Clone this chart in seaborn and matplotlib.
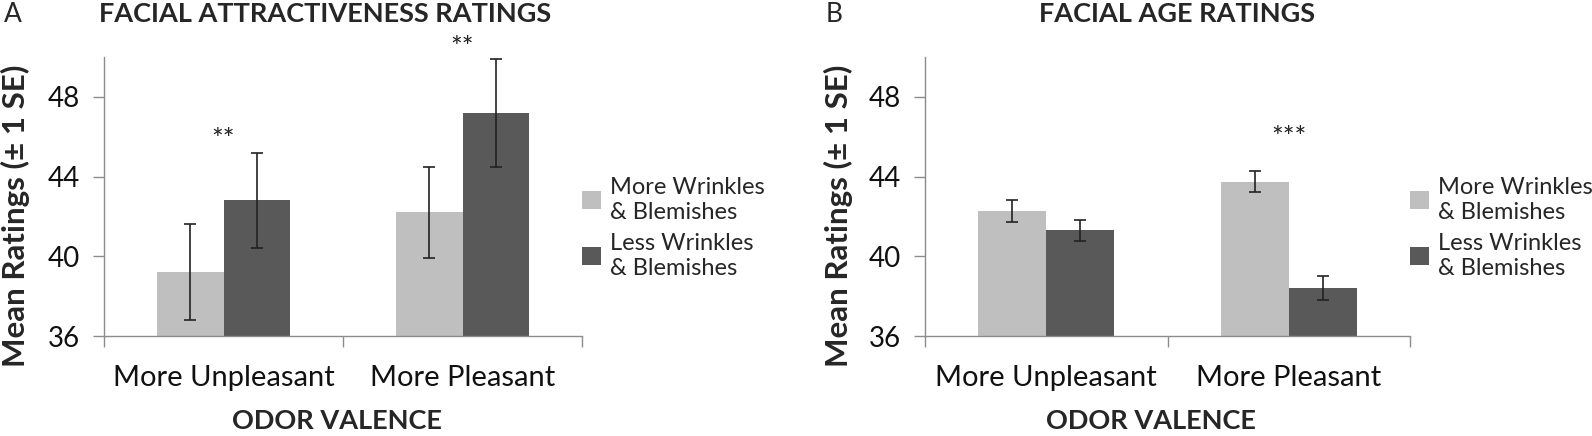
import numpy as np
import pandas as pd
import matplotlib
matplotlib.use("Agg")
import matplotlib.pyplot as plt
from matplotlib.ticker import FixedLocator
import seaborn as sns

# data
valence = ["More Unpleasant", "More Pleasant"]
conditions = ["More Wrinkles\n& Blemishes", "Less Wrinkles\n& Blemishes"]

attr_more = [39.2, 42.2]
attr_less = [42.8, 47.2]
attr_se_more = [2.4, 2.3]
attr_se_less = [2.4, 2.7]
attr_stars = ["**", "**"]
attr_star_y = [45.8, 50.4]

age_more = [42.25, 43.75]
age_less = [41.3, 38.4]
age_se_more = [0.55, 0.52]
age_se_less = [0.52, 0.6]
age_stars = ["", "***"]
age_star_y = [45.9, 45.9]

yticks = [36, 40, 44, 48]
colors = ["#bfbfbf", "#595959"]

sns.set_theme(style="white")
plt.rcParams["font.family"] = ["Lato", "DejaVu Sans"]

W, H = 1592, 436
fig = plt.figure(figsize=(W / 100, H / 100), dpi=100)


def px_axes(x0, x1, y0, y1):
    # axes rectangle given in pixel coordinates (top-left origin)
    return fig.add_axes([x0 / W, 1 - y1 / H, (x1 - x0) / W, (y1 - y0) / H])


def draw_panel(ax, more, less, se_more, se_less, stars, star_y, ylab_x):
    df = pd.DataFrame({
        "valence": valence * 2,
        "condition": [conditions[0]] * 2 + [conditions[1]] * 2,
        "rating": more + less,
    })
    sns.barplot(data=df, x="valence", y="rating", hue="condition",
                order=valence, hue_order=conditions, palette=colors,
                width=0.56, errorbar=None, saturation=1, linewidth=0, ax=ax)
    for cont, errs in zip(ax.containers, [se_more, se_less]):
        xs = [p.get_x() + p.get_width() / 2 for p in cont.patches]
        ys = [p.get_height() for p in cont.patches]
        ax.errorbar(xs, ys, yerr=errs, fmt="none", ecolor="#222222",
                    elinewidth=1.2, capsize=4, capthick=1.2, zorder=5)
    for i, (s, y) in enumerate(zip(stars, star_y)):
        if s:
            ax.text(i, y, s, ha="center", va="center", fontsize=20,
                    color="#222222", clip_on=False)

    ax.set_ylim(36, 50)
    ax.set_xlim(-0.5, 1.5)
    ax.set_yticks(yticks)
    ax.set_yticklabels([str(t) for t in yticks], fontsize=20)
    ax.set_xticks([0, 1])
    ax.set_xticklabels(valence, fontsize=21)
    ax.xaxis.set_minor_locator(FixedLocator([-0.5, 0.5, 1.5]))
    ax.tick_params(axis="x", which="major", length=0, pad=21, colors="#111111")
    ax.tick_params(axis="x", which="minor", length=8, width=1,
                   color="#8c8c8c", direction="out", bottom=True)
    ax.tick_params(axis="y", length=8, width=1, color="#8c8c8c",
                   direction="out", left=True, pad=9, labelcolor="#111111")
    for side in ["top", "right"]:
        ax.spines[side].set_visible(False)
    for side in ["left", "bottom"]:
        ax.spines[side].set_color("#8c8c8c")
        ax.spines[side].set_linewidth(1)
    ax.set_xlabel("")
    ax.set_ylabel("Mean Ratings (\u00b1 1 SE)", fontsize=22.5, fontweight="bold",
                  va="center")
    ax.yaxis.set_label_coords(ylab_x, 0.43)
    handles = ax.containers
    ax.legend(handles, conditions, loc="center left",
              bbox_to_anchor=(1.0, 0.387), frameon=False, fontsize=17,
              handlelength=0.8, handleheight=0.8, handletextpad=0.4,
              labelspacing=0.45, borderpad=0, borderaxespad=0)


axA = px_axes(104, 582, 57, 336)
draw_panel(axA, attr_more, attr_less, attr_se_more, attr_se_less,
           attr_stars, attr_star_y, -0.186)
axB = px_axes(925, 1410, 57, 336)
draw_panel(axB, age_more, age_less, age_se_more, age_se_less,
           age_stars, age_star_y, -0.179)

fig.text(4 / W, 1 - 14 / H, "A", fontsize=19, va="center", ha="left")
fig.text(826 / W, 1 - 14 / H, "B", fontsize=19, va="center", ha="left")
fig.text(325 / W, 1 - 14 / H, "FACIAL ATTRACTIVENESS RATINGS", fontsize=19.5,
         fontweight="bold", va="center", ha="center")
fig.text(1177 / W, 1 - 14 / H, "FACIAL AGE RATINGS", fontsize=19.5,
         fontweight="bold", va="center", ha="center")
fig.text(337 / W, 1 - 421 / H, "ODOR VALENCE", fontsize=19.5,
         fontweight="bold", va="center", ha="center")
fig.text(1151 / W, 1 - 421 / H, "ODOR VALENCE", fontsize=19.5,
         fontweight="bold", va="center", ha="center")

fig.savefig("out.png", dpi=100)
